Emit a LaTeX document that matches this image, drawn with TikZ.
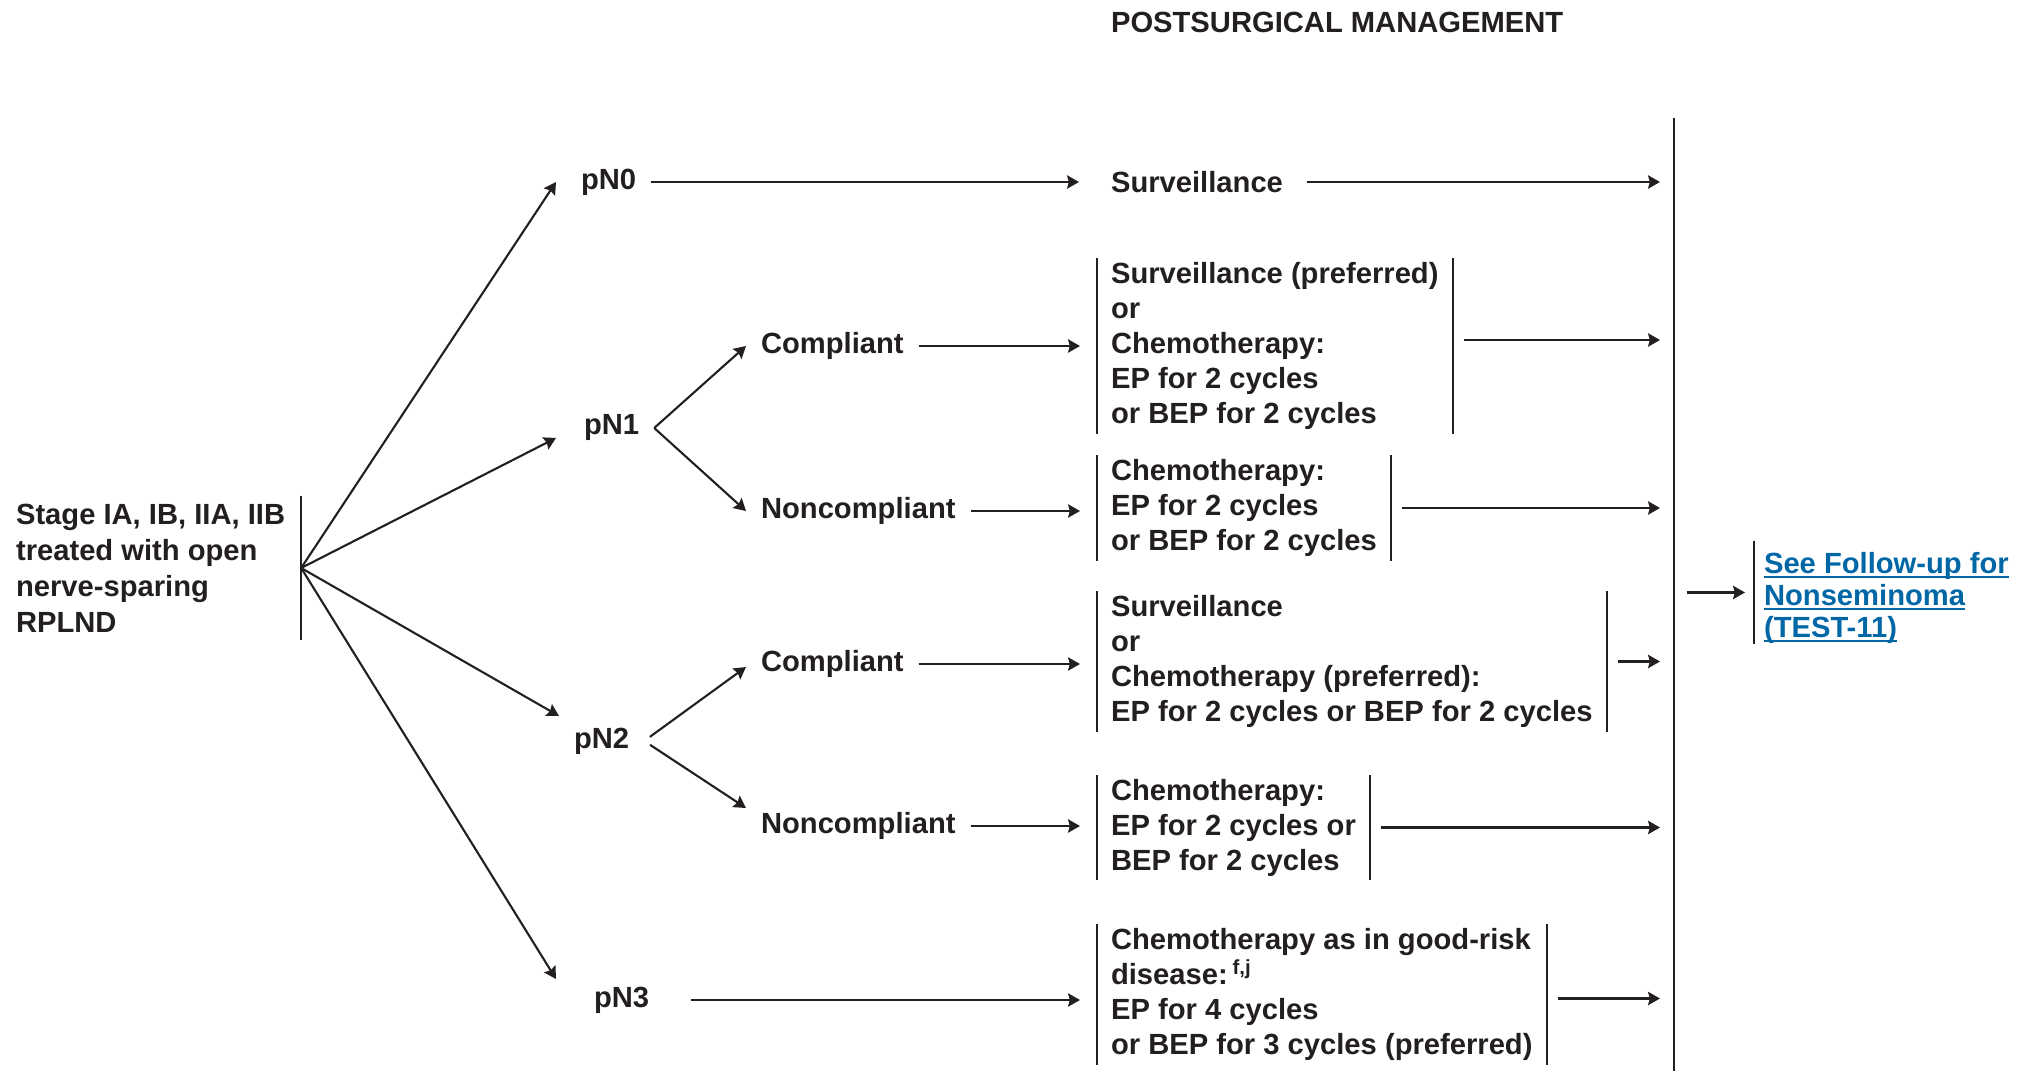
\documentclass[tikz,border=0pt]{standalone}
\usepackage{fontspec}
\setmainfont{Liberation Sans}
\usetikzlibrary{arrows.meta}
\definecolor{ink}{HTML}{231F20}
\definecolor{linkblue}{HTML}{0067A6}
\tikzset{>={Stealth[length=3.4pt,width=3.8pt,inset=0.5pt]}}
\newcommand{\txtsize}{\fontsize{8.3}{9.96}\selectfont}
\newsavebox{\linkbox}
\newcommand{\linkline}[1]{\sbox{\linkbox}{#1}\rlap{\smash{\rule[-1.3pt]{\wd\linkbox}{0.55pt}}}\usebox{\linkbox}}

\begin{document}
\begin{tikzpicture}[line width=0.6pt, color=ink,
    lbl/.style={anchor=west, font=\bfseries\txtsize, inner xsep=1.4mm, inner ysep=0.5mm},
    lbar/.style={append after command={(\tikzlastnode.north west) edge (\tikzlastnode.south west)}},
    rbar/.style={append after command={(\tikzlastnode.north east) edge (\tikzlastnode.south east)}},
    opts/.style={lbl, align=left, inner xsep=1.3mm, inner ysep=0.3mm, lbar, rbar}]
        \useasboundingbox (0,0) rectangle (20.20,10.71);

        % Heading
        \node[lbl, inner sep=0pt] at (11.10, 10.49) (title) {POSTSURGICAL MANAGEMENT};

        % Start
        \node[lbl, align=left, font=\bfseries\fontsize{8.3}{10.24}\selectfont,
              inner xsep=1.5mm, inner ysep=0.7mm, rbar] at (0, 5.03) (stage)
              {Stage IA, IB, IIA, IIB\\treated with open\\nerve-sparing\\RPLND};

        % Pathologic stages
        \node[lbl] at (5.66, 8.89) (pN0) {pN0};
        \node[lbl] at (5.69, 6.43) (pN1) {pN1};
        \node[lbl] at (5.59, 3.30) (pN2) {pN2};
        \node[lbl] at (5.79, 0.71) (pN3) {pN3};

        \node[lbl] at (7.46, 7.25) (comp1) {Compliant};
        \node[lbl] at (7.46, 5.60) (noncomp1) {Noncompliant};
        \node[lbl] at (7.46, 4.07) (comp2) {Compliant};
        \node[lbl] at (7.46, 2.45) (noncomp2) {Noncompliant};

        % Management
        \node[lbl] at (10.96, 8.89) (surv) {Surveillance};
        \node[opts] at (10.97, 7.25) (mgmt1) {Surveillance (preferred)\\or\\Chemotherapy:\\EP for 2 cycles\\or BEP for 2 cycles};
        \node[opts] at (10.97, 5.63) (mgmt2) {Chemotherapy:\\EP for 2 cycles\\or BEP for 2 cycles};
        \node[opts] at (10.97, 4.095) (mgmt3) {Surveillance\\or\\Chemotherapy (preferred):\\EP for 2 cycles or BEP for 2 cycles};
        \node[opts] at (10.97, 2.435) (mgmt4) {Chemotherapy:\\EP for 2 cycles or\\BEP for 2 cycles};
        \node[opts] at (10.97, 0.765) (mgmt5) {Chemotherapy as in good-risk\\disease:\,\textsuperscript{f,j}\\EP for 4 cycles\\or BEP for 3 cycles (preferred)};

        % Follow-up
        \coordinate (bartop) at (16.74, 9.53);
        \coordinate (barbot) at (16.74, 0);
        \coordinate (bartip) at (16.60, 0);
        \draw (bartop) -- (barbot);
        \node[lbl, lbar, align=left, text=linkblue, font=\bfseries\fontsize{8.3}{9.1}\selectfont,
              inner xsep=0.9mm, inner ysep=0pt] at (17.54, 4.785) (followup)
              {\rule{0pt}{9pt}\linkline{See Follow-up for}\\\linkline{Nonseminoma}\\\linkline{(TEST-11)}};

        % Arrows
        \draw[->] (stage.east) -- ([xshift=-1mm]pN0.west);
        \draw[->] (stage.east) -- ([xshift=-1.3mm,yshift=-1mm]pN1.west);
        \draw[->] (stage.east) -- ([yshift=2.5mm]pN2.west);
        \draw[->] (stage.east) -- ([xshift=-2.3mm,yshift=2.1mm]pN3.west);

        \draw[->] (pN1.east) -- (comp1.west);
        \draw[->] (pN1.east) -- (noncomp1.west);
        \draw[->, shorten <=0.7mm] (pN2.east) -- ([yshift=-0.3mm]comp2.west);
        \draw[->, shorten <=0.7mm] (pN2.east) -- ([yshift=1.8mm]noncomp2.west);

        \draw[->, shorten >=1.7mm] (pN0.east) -- (surv.west);
        \draw[->, shorten >=1.7mm] (comp1.east) -- (comp1.east -| mgmt1.west);
        \draw[->, shorten >=1.7mm] (noncomp1.east) -- (noncomp1.east -| mgmt2.west);
        \draw[->, shorten >=1.7mm] (comp2.east) -- (comp2.east -| mgmt3.west);
        \draw[->, shorten >=1.7mm] (noncomp2.east) -- (noncomp2.east -| mgmt4.west);
        \draw[->, shorten <=2.7mm, shorten >=1.7mm] (pN3.east) -- (pN3.east -| mgmt5.west);

        \draw[->, shorten <=0.9mm] (surv.east) -- (surv.east -| bartip);
        \draw[->, shorten <=1.1mm] ([yshift=0.6mm]mgmt1.east) -- ([yshift=0.6mm]mgmt1.east -| bartip);
        \draw[->, shorten <=1.1mm] (mgmt2.east) -- (mgmt2.east -| bartip);
        \draw[->, shorten <=1.1mm] (mgmt3.east) -- (mgmt3.east -| bartip);
        \draw[->, shorten <=1.1mm] (mgmt4.east) -- (mgmt4.east -| bartip);
        \draw[->, shorten <=1.1mm] ([yshift=-0.4mm]mgmt5.east) -- ([yshift=-0.4mm]mgmt5.east -| bartip);

        \draw[->, shorten <=1.3mm, shorten >=0.9mm] (followup.west -| bartop) -- (followup.west);

\end{tikzpicture}
\end{document}
